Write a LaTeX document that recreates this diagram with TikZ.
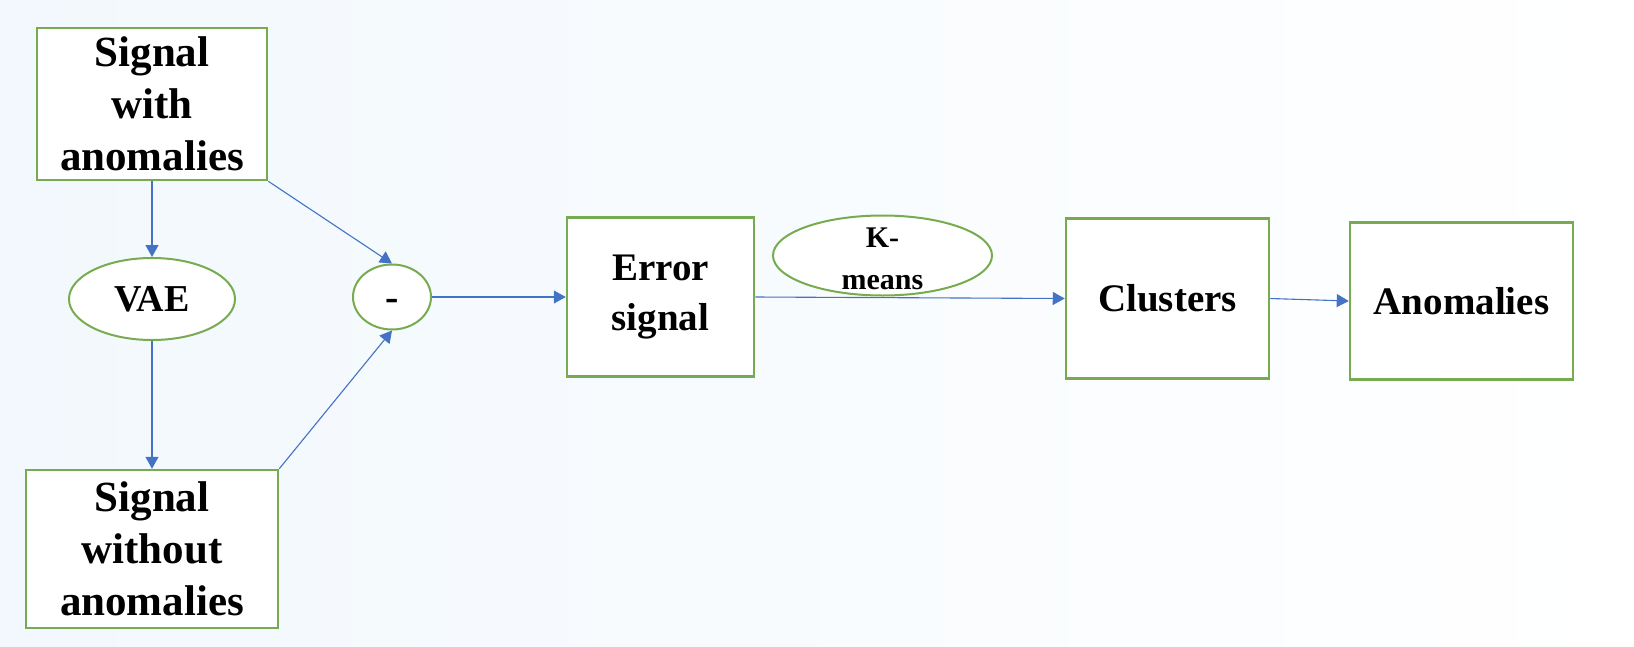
\documentclass[tikz,border=0pt]{standalone}
\usepackage{fontspec}
\setmainfont{Liberation Serif}
\usetikzlibrary{shapes.geometric, arrows, arrows.meta}
\definecolor{boxgreen}{HTML}{77AB4F}
\definecolor{arrowblue}{HTML}{4472C4}
\definecolor{bgblue}{HTML}{F2F8FD}
\tikzstyle{block} = [rectangle, draw=boxgreen, line width=2.5pt, fill=white, text centered, align=center, inner sep=0pt]
\tikzstyle{oval} = [ellipse, draw=boxgreen, line width=2pt, fill=white, inner sep=0pt]
\tikzstyle{arrow} = [draw=arrowblue, line width=1.1pt, -{Triangle[length=12pt,width=13pt]}]

\begin{document}
\begin{tikzpicture}[x=1pt, y=-1pt]
\shade[left color=bgblue, right color=white] (0,0) rectangle (1634,646);
\useasboundingbox (0,0) rectangle (1634,646);

\node (sigA) [block, minimum width=230pt, minimum height=152pt, font=\bfseries\fontsize{43}{52}\selectfont] at (152,104) {Signal\\with\\anomalies};

\node (vae) [oval, below of=sigA, node distance=195pt, minimum width=166pt, minimum height=82pt, font=\bfseries\fontsize{38}{40}\selectfont] {VAE};
\draw [arrow] (sigA.south)--(vae.north);

\node (sigB) [block, below of=vae, node distance=250pt, minimum width=252pt, minimum height=158pt, font=\bfseries\fontsize{43}{52}\selectfont] {Signal\\without\\anomalies};
\draw [arrow] (vae.south)--(sigB.north);

\node (minus) [oval, right of=vae, node distance=240pt, yshift=2pt, minimum width=78pt, minimum height=65pt, text height=27pt, text depth=0pt, font=\bfseries\fontsize{40}{40}\selectfont] {-};
\draw [arrow] (sigA.south east)--(minus.north);
\draw [arrow] (sigB.north east)--(minus.south);

\node (err) [block, right of=minus, node distance=268.5pt, minimum width=187pt, minimum height=159pt, font=\bfseries\fontsize{39}{50}\selectfont] {Error\\signal};
\draw [arrow] (minus.east)--(err.west);

\node (clu) [block, right of=err, node distance=507pt, yshift=-1.5pt, minimum width=203pt, minimum height=160pt, font=\bfseries\fontsize{39}{50}\selectfont] {Clusters};
\draw [arrow] (err.east)--(clu.west);

% K-means label sits on the connector, text spills out of the oval
\node (km) [oval, right of=err, node distance=222pt, yshift=41.5pt, minimum width=219pt, minimum height=80pt] {};
\node (kmtext) [align=center, inner sep=0pt, font=\bfseries\fontsize{30}{42}\selectfont] at ([yshift=-3pt]km.center) {K-\\means};

\node (ano) [block, right of=clu, node distance=294pt, yshift=-2.5pt, minimum width=223pt, minimum height=157pt, font=\bfseries\fontsize{39}{50}\selectfont] {Anomalies};
\draw [arrow] (clu.east)--(ano.west);
\end{tikzpicture}
\end{document}
